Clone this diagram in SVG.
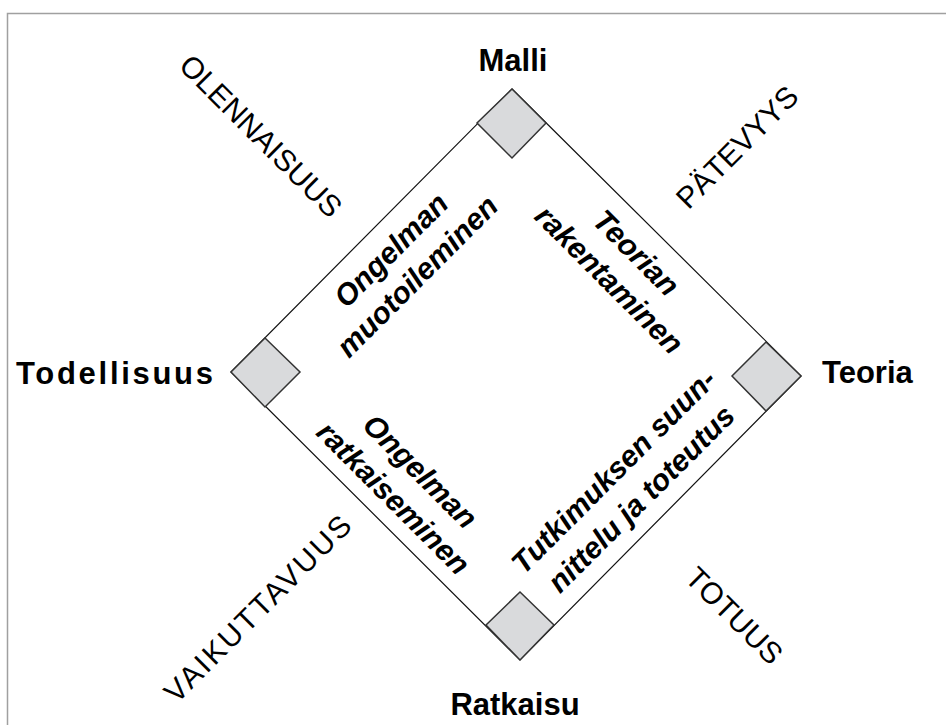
<svg xmlns="http://www.w3.org/2000/svg" width="946" height="725" viewBox="0 0 946 725">
  <style>
    .frame { fill: none; stroke: #a0a0a0; stroke-width: 1.5; }
    .edge { fill: none; stroke: #111; stroke-width: 1.2; }
    .corner { fill: #d9dadc; stroke: #333; stroke-width: 1.5; }
    .label { font-family: "Liberation Sans", Arial, sans-serif; font-weight: bold; font-size: 31px; fill: #000; }
    .value { font-family: "Liberation Sans", Arial, sans-serif; font-size: 30px; fill: #000; text-anchor: middle; }
    .phase { font-family: "Liberation Sans", Arial, sans-serif; font-weight: bold; font-style: italic; font-size: 30px; fill: #000; text-anchor: middle; }
  </style>

  <rect class="frame" x="7.5" y="13.5" width="960" height="740"/>

  <!-- diamond outline -->
  <g id="connectors">
    <polygon class="edge" points="512,89 801,376 520,660 231,372"/>
  </g>

  <!-- corner nodes -->
  <g id="malli">
    <polygon class="corner" points="512,89 546,123 512,158 477,123"/>
    <text class="label" x="513" y="71" text-anchor="middle">Malli</text>
  </g>
  <g id="teoria">
    <polygon class="corner" points="766,342 801,376 766,411 732,376"/>
    <text class="label" x="822" y="383">Teoria</text>
  </g>
  <g id="ratkaisu">
    <polygon class="corner" points="520,592 554,625 520,660 486,625"/>
    <text class="label" x="515" y="715" text-anchor="middle">Ratkaisu</text>
  </g>
  <g id="todellisuus">
    <polygon class="corner" points="265,338 300,372 265,407 231,372"/>
    <text class="label" x="16" y="384" font-size="33" textLength="197" lengthAdjust="spacing">Todellisuus</text>
  </g>

  <!-- values on the outer sides -->
  <g id="values">
    <text class="value" transform="translate(253.6,143.4) rotate(45)">OLENNAISUUS</text>
    <text class="value" transform="translate(744.4,154.4) rotate(-45)">PÄTEVYYS</text>
    <text class="value" transform="translate(265,616) rotate(-45)" font-size="32" textLength="250" lengthAdjust="spacing">VAIKUTTAVUUS</text>
    <text class="value" transform="translate(727,623) rotate(45)" font-size="32">TOTUUS</text>
  </g>

  <!-- phases along the inner sides -->
  <g id="phase-muotoilu" transform="translate(371.5,230.5) rotate(-45)">
    <text class="phase" x="0" y="38">Ongelman</text>
    <text class="phase" x="0" y="75">muotoileminen</text>
  </g>
  <g id="phase-rakentaminen" transform="translate(656.5,232.5) rotate(45)">
    <text class="phase" x="0" y="39">Teorian</text>
    <text class="phase" x="0" y="77">rakentaminen</text>
  </g>
  <g id="phase-ratkaiseminen" transform="translate(375.5,516) rotate(45)">
    <text class="phase" x="0" y="-53">Ongelman</text>
    <text class="phase" x="0" y="-15">ratkaiseminen</text>
  </g>
  <g id="phase-tutkimus" transform="translate(660.5,518) rotate(-45)">
    <text class="phase" x="0" y="-56">Tutkimuksen suun-</text>
    <text class="phase" x="0" y="-17">nittelu ja toteutus</text>
  </g>
</svg>
